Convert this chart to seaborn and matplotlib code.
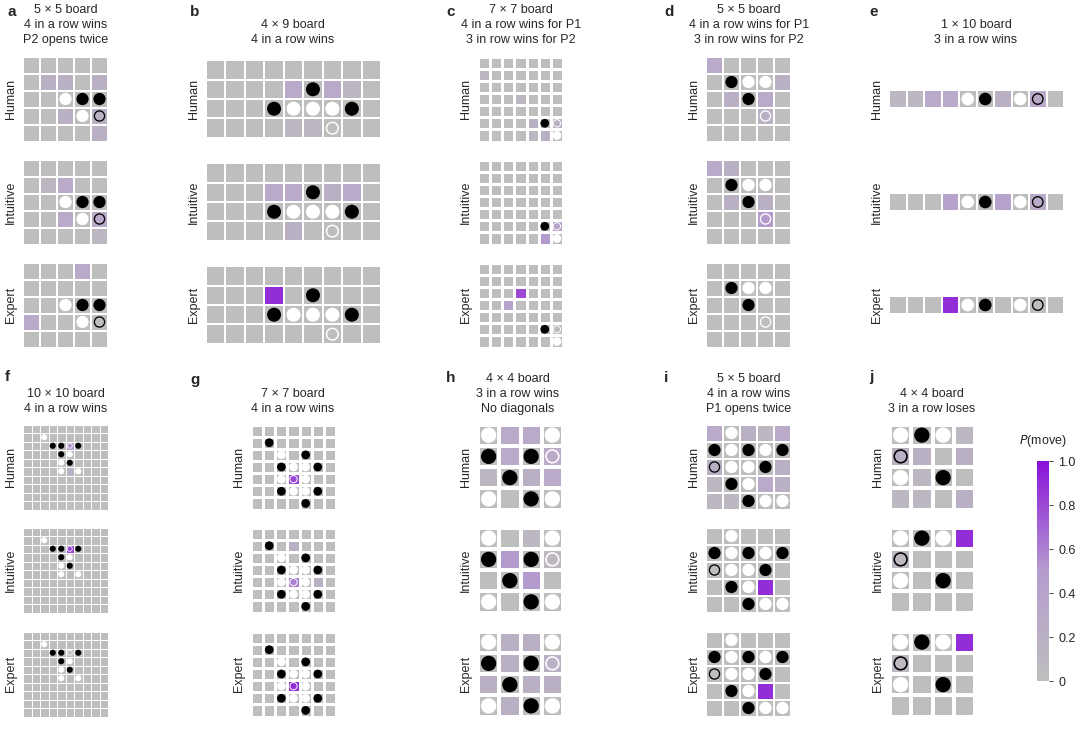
import numpy as np
import matplotlib
matplotlib.use("Agg")
import matplotlib.pyplot as plt
import seaborn as sns
from matplotlib.colors import LinearSegmentedColormap
from matplotlib.patches import Circle
from matplotlib.colorbar import ColorbarBase
from matplotlib.colors import Normalize

# pieces: B black, W white, o actual move (black ring), w actual move (white ring)
# probabilities: digit = P(move) * 10, rows Human / Intuitive / Expert
agents = ["Human", "Intuitive", "Expert"]

a_title = ["5 \u00d7 5 board", "4 in a row wins", "P2 opens twice"]
a_board = [".....", ".....", "..WBB", "...Wo", "....."]
a_probs = [["00000", "02202", "00000", "00202", "00002"],
           ["00000", "01300", "00000", "00303", "00001"],
           ["00030", "00000", "00000", "30000", "00000"]]

b_title = ["4 \u00d7 9 board", "4 in a row wins"]
b_board = [".........", ".....B...", "...BWWWB.", "......w.."]
b_probs = [["000000000", "000030310", "000000000", "000011000"],
           ["000000000", "000330230", "000000000", "000020000"],
           ["000000000", "000900000", "000000000", "000000000"]]

c_title = ["7 \u00d7 7 board", "4 in a row wins for P1", "3 in row wins for P2"]
c_board = [".......", ".......", ".......", ".......", ".......", ".....Bw", "......W"]
c_probs = [["0000000", "1000000", "0000000", "0001000", "0000000", "0000202", "0000120"],
           ["0000000", "0000000", "0000000", "0000000", "0000000", "0000004", "0000050"],
           ["0000000", "0000000", "0008000", "0040000", "0000000", "0000000", "0000000"]]

d_title = ["5 \u00d7 5 board", "4 in a row wins for P1", "3 in row wins for P2"]
d_board = [".....", ".BWW.", "..B..", "...w.", "....."]
d_probs = [["30000", "00002", "02030", "00020", "00000"],
           ["32000", "00000", "02020", "00050", "00000"],
           ["00000", "00000", "00000", "00000", "00000"]]

e_title = ["1 \u00d7 10 board", "3 in a row wins"]
e_board = ["....WB.Wo."]
e_probs = [["1133002030"], ["0004004030"], ["0009000000"]]

f_title = ["10 \u00d7 10 board", "4 in a row wins"]
f_board = ["..........", "..W.......", "...BBwB...", "....BW....", "....WB....",
           "....W.W...", "..........", "..........", "..........", ".........."]
f_zero = ["0000000000"] * 10
f_probs = [f_zero[:2] + ["0000050000", "0000000000", "0000000000", "0000020000"] + f_zero[:4],
           f_zero[:2] + ["0000080000"] + f_zero[:7],
           f_zero]

g_title = ["7 \u00d7 7 board", "4 in a row wins"]
g_board = [".......", ".B.....", "..W.B..", "..BWWB.", "..WwW..", "..BWWB.", "....B.."]
g_probs = [["0000000", "0000000", "0000000", "0000000", "0008000", "0000000", "0000000"],
           ["0000000", "0002000", "0000000", "0000000", "0006020", "0000000", "0000000"],
           ["0000000", "0000000", "0000000", "0000000", "0009000", "0000000", "0000000"]]

h_title = ["4 \u00d7 4 board", "3 in a row wins", "No diagonals"]
h_board = ["W..W", "B.Bw", ".B..", "W.BW"]
h_probs = [["0330", "0303", "1023", "0000"],
           ["0010", "0501", "0050", "0000"],
           ["0220", "0202", "2022", "0200"]]

i_title = ["5 \u00d7 5 board", "4 in a row wins", "P1 opens twice"]
i_board = [".W...", "BWBWB", "oWWB.", ".BW..", "..BWW"]
i_probs = [["30213", "00000", "20002", "10032", "11000"],
           ["00000", "00000", "00000", "00090", "00000"],
           ["00000", "00000", "00000", "00090", "00000"]]

j_title = ["4 \u00d7 4 board", "3 in a row loses"]
j_board = ["WBW.", "o...", "W.B.", "...."]
j_probs = [["0001", "2202", "0100", "1102"],
           ["0009", "1000", "0000", "0000"],
           ["0009", "1000", "0000", "0000"]]

W, H = 1080, 730
fig = plt.figure(figsize=(W / 100, H / 100), dpi=100)
sns.set_style("white")
plt.rcParams["font.family"] = ["Liberation Sans", "DejaVu Sans"]

cmap = LinearSegmentedColormap.from_list("pm", ["#bebebe", "#b49cce", "#8a12da"])


def px_axes(x, y, w, h):
    return fig.add_axes([x / W, 1 - (y + h) / H, w / W, h / H])


def draw_board(board, probs, x, yc, width, label):
    nr, nc = len(board), len(board[0])
    cell = width / nc
    h = cell * nr
    ax = px_axes(x, yc - h / 2, width, h)
    P = np.array([[int(ch) / 10 for ch in row] for row in probs])
    sns.heatmap(P, ax=ax, cmap=cmap, vmin=0, vmax=1, cbar=False,
                linewidths=max(0.5, cell * 0.1 * 0.72), linecolor="white")
    ax.set_xticks([])
    ax.set_yticks([])
    ax.set_aspect("auto")
    lw = max(0.5, cell * 0.055)
    for r, row in enumerate(board):
        for c, ch in enumerate(row):
            xy = (c + 0.5, r + 0.5)
            if ch == "B":
                ax.add_patch(Circle(xy, 0.36, fc="black", ec="none", zorder=3))
            elif ch == "W":
                ax.add_patch(Circle(xy, 0.36, fc="white", ec="none", zorder=3))
            elif ch == "o":
                ax.add_patch(Circle(xy, 0.3, fc="none", ec="black", lw=lw, zorder=3))
            elif ch == "w":
                ax.add_patch(Circle(xy, 0.3, fc="none", ec="white", lw=lw, zorder=3))
    fig.text((x - 12) / W, 1 - yc / H, label, rotation=90, ha="center", va="center", fontsize=9)


def panel(letter, lx, ly, title, tx, ty, board, probs, x, width, ycs):
    fig.text(lx / W, 1 - ly / H, letter, fontsize=11, fontweight="bold", va="center")
    for k, line in enumerate(title):
        fig.text(tx / W, 1 - (ty + 15 * k) / H, line, ha="center", va="center", fontsize=9)
    for probs_k, yc, lab in zip(probs, ycs, agents):
        draw_board(board, probs_k, x, yc, width, lab)


top = [99, 202, 305]
bot = [467, 570, 674]
panel("a", 8, 12, a_title, 66, 10, a_board, a_probs, 23, 85, top)
panel("b", 190, 12, b_title, 293, 25, b_board, b_probs, 206, 175, top)
panel("c", 446, 12, c_title, 521, 10, c_board, c_probs, 478, 85, top)
panel("d", 664, 12, d_title, 749, 10, d_board, d_probs, 706, 85, top)
panel("e", 869, 12, e_title, 976, 25, e_board, e_probs, 889, 175, top)
panel("f", 5, 377, f_title, 66, 394, f_board, f_probs, 23, 85, bot)
panel("g", 190, 380, g_title, 293, 394, g_board, g_probs, 251, 85, bot)
panel("h", 446, 378, h_title, 518, 379, h_board, h_probs, 478, 85, bot)
panel("i", 664, 378, i_title, 749, 379, i_board, i_probs, 706, 85, bot)
panel("j", 869, 377, j_title, 932, 394, j_board, j_probs, 890, 85, bot)

cax = px_axes(1037, 461, 12, 220)
cb = ColorbarBase(cax, cmap=cmap, norm=Normalize(0, 1))
cb.outline.set_visible(False)
cb.set_ticks([0, 0.2, 0.4, 0.6, 0.8, 1.0])
cb.set_ticklabels(["0", "0.2", "0.4", "0.6", "0.8", "1.0"])
cax.tick_params(labelsize=9, length=3, width=0.6)
fig.text(1043 / W, 1 - 441 / H, "$P$(move)", ha="center", va="center", fontsize=9)

fig.savefig("out.png", dpi=100)
